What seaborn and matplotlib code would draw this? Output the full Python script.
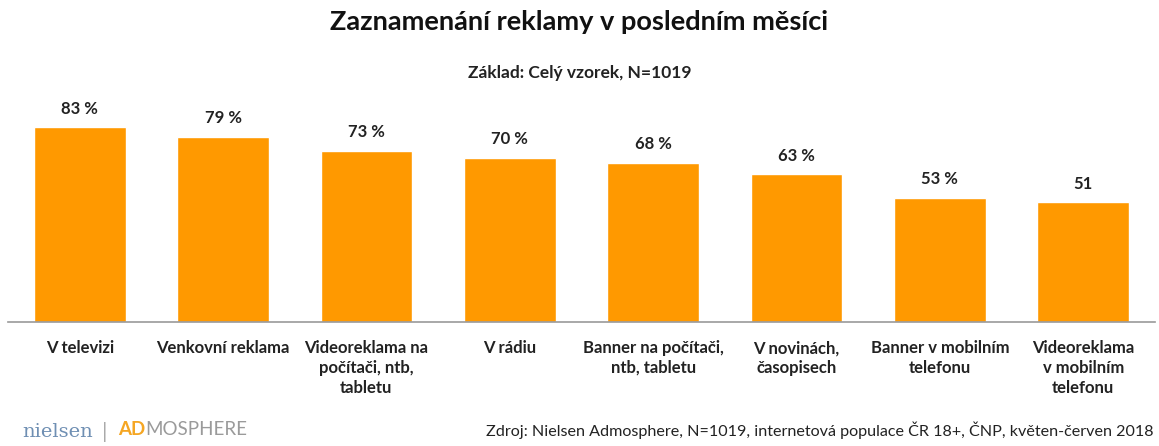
import seaborn as sns
import matplotlib.pyplot as plt
import pandas as pd

# data
categories = ['V televizi', 'Venkovní reklama', 'Videoreklama na\npočítači, ntb,\ntabletu',
              'V rádiu', 'Banner na počítači,\nntb, tabletu', 'V novinách,\nčasopisech',
              'Banner v mobilním\ntelefonu', 'Videoreklama\nv mobilním\ntelefonu']
values = [83, 79, 73, 70, 68, 63, 53, 51]
value_labels = ['83 %', '79 %', '73 %', '70 %', '68 %', '63 %', '53 %', '51']

df = pd.DataFrame({'Category': categories, 'Value': values})

sns.set_style('white')
plt.rcParams['font.family'] = ['Lato', 'DejaVu Sans']

fig = plt.figure(figsize=(11.59, 4.46), dpi=100)
ax = fig.add_axes([0.0069, 0.278, 0.9896, 0.473])

sns.barplot(x='Category', y='Value', data=df, color='#FF9900', saturation=1,
            width=0.64, ax=ax)

for i, (v, lab) in enumerate(zip(values, value_labels)):
    ax.text(i, v + 4.5, lab, ha='center', va='bottom', fontsize=12,
            fontweight='bold', color='#222222', clip_on=False)

ax.set_ylim(0, 90)
ax.set_xlim(-0.5, len(categories) - 0.5)
ax.set_yticks([])
ax.set_xlabel('')
ax.set_ylabel('')
for s in ['top', 'right', 'left']:
    ax.spines[s].set_visible(False)
ax.spines['bottom'].set_color('#999999')
ax.spines['bottom'].set_linewidth(1.2)

ax.set_xticks(range(len(categories)))
ax.set_xticklabels(categories, fontsize=12, fontweight='bold', color='#222222',
                   linespacing=1.3, va='top')
ax.tick_params(axis='x', which='major', length=0, pad=13)
ax.set_xticks([i - 0.5 for i in range(len(categories) + 1)], minor=True)
ax.tick_params(axis='x', which='minor', length=6, width=1.2, color='#999999',
               direction='out')

fig.text(0.5, 0.951, 'Zaznamenání reklamy v posledním měsíci', ha='center',
         va='center', fontsize=19.5, fontweight='bold', color='#111111')
fig.text(0.5, 0.836, 'Základ: Celý vzorek, N=1019', ha='center', va='center',
         fontsize=12.5, fontweight='bold', color='#222222')

fig.text(0.995, 0.015, 'Zdroj: Nielsen Admosphere, N=1019, internetová populace ČR 18+, ČNP, květen-červen 2018',
         ha='right', va='bottom', fontsize=11.6, color='#222222')

# logo text
fig.text(0.019, 0.012, 'nielsen', ha='left', va='bottom', fontsize=14,
         family='DejaVu Serif', color='#6f8fb3')
fig.text(0.088, 0.010, '|', ha='left', va='bottom', fontsize=16, color='#aaaaaa')
ad = fig.text(0.102, 0.017, 'AD', ha='left', va='bottom', fontsize=13.5,
              color='#F5A623', fontweight='bold')
ax.annotate('MOSPHERE', xy=(1, 0), xycoords=ad, ha='left', va='bottom',
            fontsize=13.5, color='#9a9a9a', annotation_clip=False)

fig.savefig('out.png', dpi=100)
